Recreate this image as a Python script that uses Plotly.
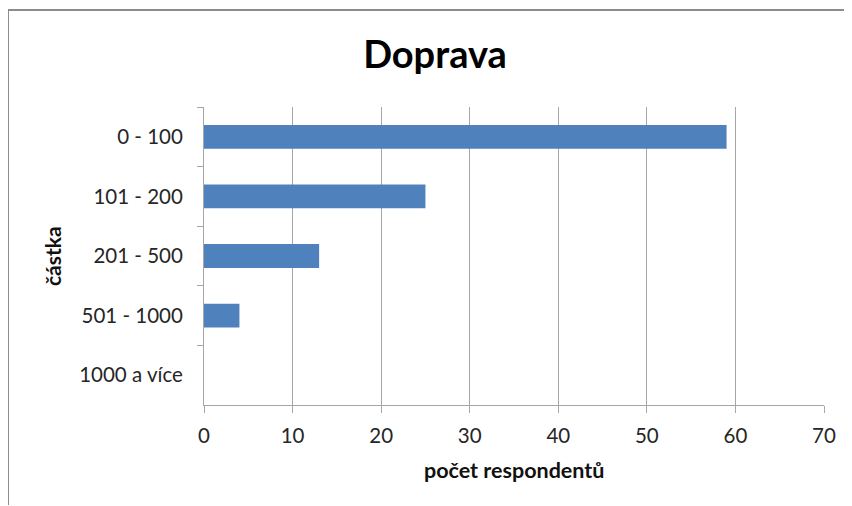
import plotly.graph_objects as go

categories = ["0 - 100", "101 - 200", "201 - 500", "501 - 1000", "1000 a více"]
values = [59, 25, 13, 4, 0]
x_ticks = [0, 10, 20, 30, 40, 50, 60, 70]

# page has an 8px body margin; figure coordinates are screen minus 8
OFF = 8
W, H = 852 - OFF, 506 - OFF
L, T = 204 - OFF, 107 - OFF
R = W - (824 - OFF)
B = H - (405 - OFF)
pw, ph = W - L - R, H - T - B

def px(sx):
    return (sx - OFF - L) / pw

def py(sy):
    return (H - B - (sy - OFF)) / ph

fig = go.Figure(go.Bar(
    y=categories, x=values, orientation="h",
    marker=dict(color="#4f81bd", line=dict(width=0)),
    width=0.4,
))

fig.update_layout(
    width=W, height=H,
    margin=dict(l=L, r=R, t=T, b=B),
    paper_bgcolor="white", plot_bgcolor="white",
    font=dict(family="Lato, Liberation Sans, sans-serif", color="#222"),
    showlegend=False,
    xaxis=dict(
        range=[0, 70], tickvals=x_ticks, ticktext=[str(v) for v in x_ticks],
        showgrid=True, gridcolor="#a6a6a6", gridwidth=1,
        zeroline=False, showline=True, linecolor="#a6a6a6", linewidth=1,
        ticks="outside", ticklen=7, tickcolor="#a6a6a6",
        tickfont=dict(size=20.5, color="#262626"),
        ticklabelstandoff=5,
        fixedrange=True,
    ),
    yaxis=dict(
        categoryorder="array", categoryarray=categories, autorange="reversed",
        showgrid=False, zeroline=False, showline=True, linecolor="#a6a6a6", linewidth=1,
        ticks="outside", ticklen=6, tickcolor="#a6a6a6", tickson="boundaries",
        tickfont=dict(size=20.5, color="#262626"),
        ticklabelstandoff=16,
        fixedrange=True,
    ),
    title=dict(text="<b>Doprava</b>", x=(435 - OFF) / W, xanchor="center",
               y=1 - (55 - OFF) / H, yanchor="middle",
               font=dict(size=38, color="#000")),
    annotations=[
        dict(text="<b>počet respondentů</b>", xref="paper", yref="paper",
             x=px(514), y=py(470), xanchor="center", yanchor="middle",
             showarrow=False, font=dict(size=21.5, color="#111")),
        dict(text="<b>částka</b>", xref="paper", yref="paper",
             x=px(52), y=py(256), xanchor="center", yanchor="middle",
             textangle=-90, showarrow=False, font=dict(size=21, color="#111")),
    ],
    shapes=[
        dict(type="line", xref="paper", yref="paper",
             x0=px(8), x1=px(8), y0=py(9), y1=py(505),
             line=dict(color="#8c8c8c", width=2)),
        dict(type="line", xref="paper", yref="paper",
             x0=px(7), x1=px(850), y0=py(10), y1=py(10),
             line=dict(color="#8c8c8c", width=2)),
    ],
)

fig.write_html("out.html", config={"displayModeBar": False})
